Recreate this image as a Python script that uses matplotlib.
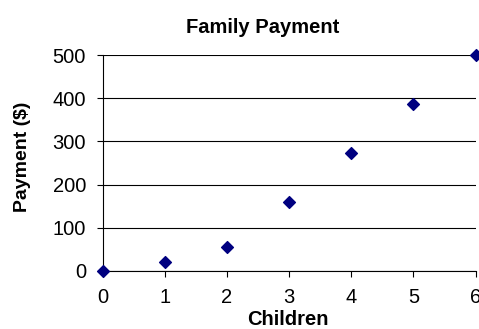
import matplotlib
matplotlib.use("Agg")
import matplotlib.pyplot as plt

children = [0, 1, 2, 3, 4, 5, 6]
payment = [0, 21, 55, 160, 273, 386, 500]
y_ticks = [0, 100, 200, 300, 400, 500]
x_ticks = [0, 1, 2, 3, 4, 5, 6]

plt.rcParams['font.family'] = ['Liberation Sans', 'DejaVu Sans']

fig = plt.figure(figsize=(4.79, 3.29), dpi=100)
ax = fig.add_axes([0.2144, 0.1763, 0.7786, 0.6565])

ax.scatter(children, payment, marker='D', s=36, color='#000080', zorder=3, clip_on=False)

ax.set_xlim(0, 6)
ax.set_ylim(0, 500)
ax.set_xticks(x_ticks)
ax.set_yticks(y_ticks)
ax.yaxis.grid(True, color='black', linewidth=0.8)
ax.set_axisbelow(True)

for side in ['top', 'right']:
    ax.spines[side].set_visible(False)
ax.spines['left'].set_linewidth(0.8)
ax.spines['bottom'].set_linewidth(0.8)
ax.tick_params(direction='out', length=4, width=0.8, labelsize=14.5, pad=8)

# titles placed in figure coords, like the excel chart area
fig.text(263 / 479, 1 - 33 / 329, 'Family Payment', fontsize=14.5, fontweight='bold',
         ha='center', va='baseline')
fig.text(288 / 479, 1 - 325 / 329, 'Children', fontsize=14.5, fontweight='bold',
         ha='center', va='baseline')
fig.text(23 / 479, 1 - 157 / 329, 'Payment ($)', fontsize=14, fontweight='bold',
         family=['Liberation Sans Narrow', 'Liberation Sans'],
         rotation=90, ha='center', va='center')

fig.savefig('out.png', dpi=100)
